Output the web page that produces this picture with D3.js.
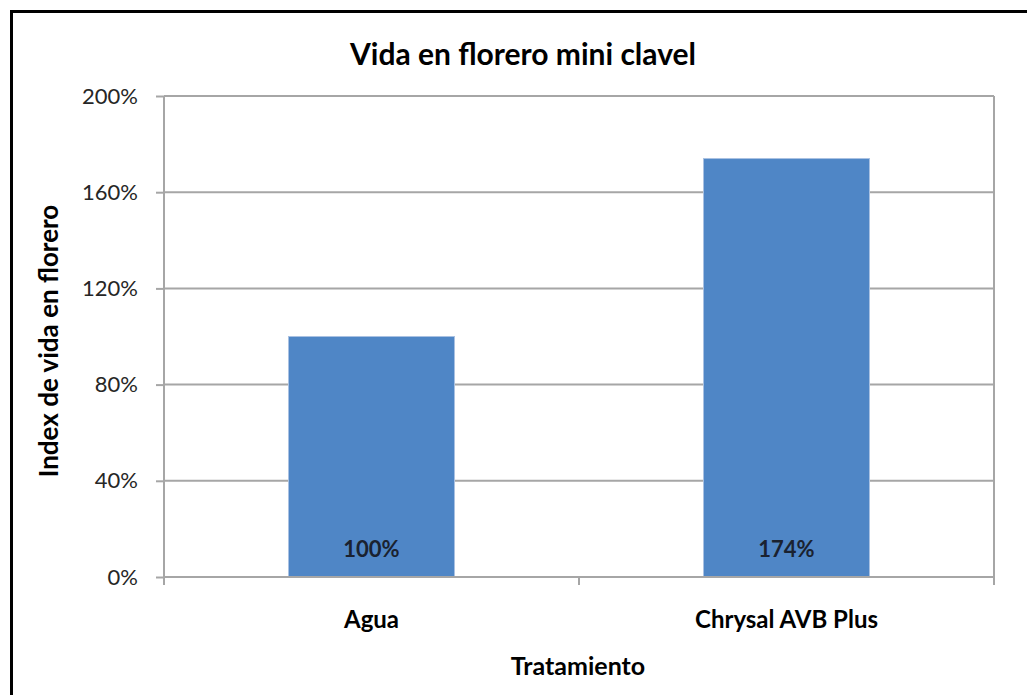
<!DOCTYPE html>
<html>
<head>
<meta charset="utf-8">
<script src="https://cdn.jsdelivr.net/npm/d3@7"></script>
<style>
  body { margin: 0; background: #fff; }
  text { font-family: Lato, "Open Sans", sans-serif; }
</style>
</head>
<body>
<svg width="1027" height="695"></svg>
<script>
var categories = ["Agua", "Chrysal AVB Plus"];
var values = [100, 174];
var yTicks = [0, 40, 80, 120, 160, 200];

var svg = d3.select("svg"),
    width = +svg.attr("width"),
    height = +svg.attr("height");

var margin = {left: 164, top: 96, right: 1027 - 994, bottom: 695 - 577};

// outer frame (runs off the right and bottom edge)
svg.append("rect")
    .attr("x", 11.5).attr("y", 11.5)
    .attr("width", 1040).attr("height", 720)
    .attr("fill", "none")
    .attr("stroke", "#000")
    .attr("stroke-width", 3);

var x = d3.scaleBand()
    .domain(categories)
    .range([margin.left, width - margin.right])
    .paddingInner(0.6)
    .paddingOuter(0.3);

var y = d3.scaleLinear()
    .domain([0, 200])
    .range([height - margin.bottom, margin.top]);

// gridlines
svg.append("g")
    .selectAll("line")
    .data(yTicks.slice(1))
    .enter().append("line")
    .attr("x1", margin.left)
    .attr("x2", width - margin.right)
    .attr("y1", function(d) { return y(d); })
    .attr("y2", function(d) { return y(d); })
    .style("stroke", "#a6a6a6")
    .style("stroke-width", 2);

// right edge of plot area
svg.append("line")
    .attr("x1", width - margin.right).attr("x2", width - margin.right)
    .attr("y1", margin.top).attr("y2", height - margin.bottom)
    .style("stroke", "#a6a6a6")
    .style("stroke-width", 2);

// bars
svg.append("g")
    .selectAll("rect")
    .data(values)
    .enter().append("rect")
    .attr("x", function(d, i) { return x(categories[i]); })
    .attr("y", function(d) { return y(d); })
    .attr("width", x.bandwidth())
    .attr("height", function(d) { return y(0) - y(d); })
    .attr("fill", "#4f86c6")
    .attr("stroke", "#a9c1e2")
    .attr("stroke-width", 1);

// value labels
svg.append("g")
    .selectAll("text")
    .data(values)
    .enter().append("text")
    .attr("x", function(d, i) { return x(categories[i]) + x.bandwidth() / 2; })
    .attr("y", y(0) - 20)
    .attr("text-anchor", "middle")
    .style("font-size", "22px")
    .style("font-weight", "bold")
    .style("fill", "#1a2230")
    .text(function(d) { return d + "%"; });

// y axis
var yAxis = svg.append("g")
    .attr("transform", "translate(" + margin.left + ",0)")
    .call(d3.axisLeft(y).tickValues(yTicks).tickSize(8).tickPadding(18)
        .tickFormat(function(d) { return d + "%"; }));
yAxis.select(".domain").style("stroke", "#a6a6a6").style("stroke-width", 2)
    .attr("d", "M0," + (y(0) + 8) + "V" + margin.top);
yAxis.selectAll(".tick line").style("stroke", "#a6a6a6").style("stroke-width", 2);
yAxis.selectAll(".tick text")
    .style("font-family", "Lato, 'Open Sans', sans-serif")
    .style("font-size", "22px")
    .style("fill", "#262626");

// x axis: ticks at category boundaries
var xAxis = svg.append("g")
    .attr("transform", "translate(0," + y(0) + ")");
xAxis.append("line")
    .attr("x1", margin.left).attr("x2", width - margin.right)
    .style("stroke", "#a6a6a6").style("stroke-width", 2);
xAxis.selectAll(".xt")
    .data([0, 1, 2])
    .enter().append("line")
    .attr("class", "xt")
    .attr("x1", function(d) { return margin.left + d * (width - margin.left - margin.right) / 2; })
    .attr("x2", function(d) { return margin.left + d * (width - margin.left - margin.right) / 2; })
    .attr("y1", 0).attr("y2", 8)
    .style("stroke", "#a6a6a6").style("stroke-width", 2);
xAxis.selectAll(".xl")
    .data(categories)
    .enter().append("text")
    .attr("class", "xl")
    .attr("x", function(d) { return x(d) + x.bandwidth() / 2; })
    .attr("y", 51)
    .attr("text-anchor", "middle")
    .style("font-size", "24px")
    .style("font-weight", "bold")
    .style("fill", "#000")
    .text(function(d) { return d; });

// titles
svg.append("text")
    .attr("x", 523).attr("y", 65)
    .attr("text-anchor", "middle")
    .style("font-size", "30px")
    .style("font-weight", "bold")
    .text("Vida en florero mini clavel");

svg.append("text")
    .attr("x", 578).attr("y", 675)
    .attr("text-anchor", "middle")
    .style("font-size", "25px")
    .style("font-weight", "bold")
    .text("Tratamiento");

svg.append("text")
    .attr("transform", "translate(58,341) rotate(-90)")
    .attr("text-anchor", "middle")
    .style("font-size", "26px")
    .style("font-weight", "bold")
    .text("Index de vida en florero");
</script>
</body>
</html>
